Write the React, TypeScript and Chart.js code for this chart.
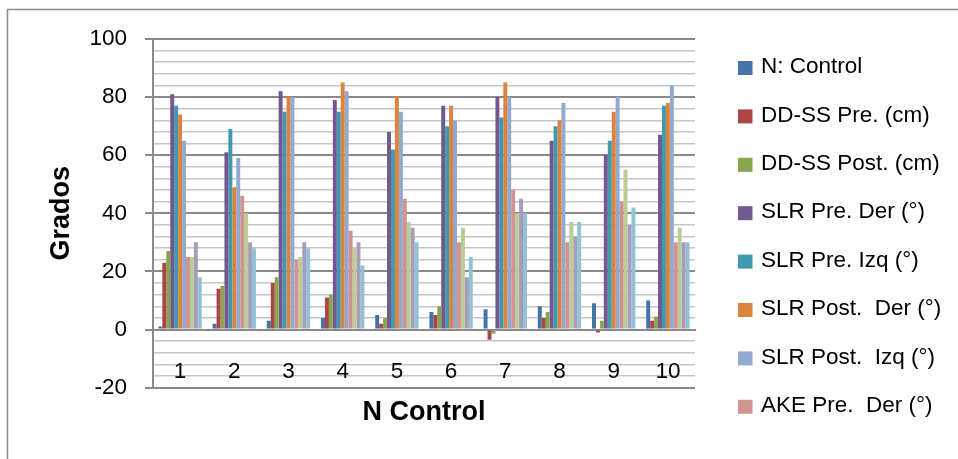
import { useEffect, useRef } from 'react';
import { Chart, registerables } from 'chart.js';

Chart.register(...registerables);

const categories = ['1', '2', '3', '4', '5', '6', '7', '8', '9', '10'];

const seriesNames = [
  'N: Control',
  'DD-SS Pre. (cm)',
  'DD-SS Post. (cm)',
  'SLR Pre. Der (°)',
  'SLR Pre. Izq (°)',
  'SLR Post.  Der (°)',
  'SLR Post.  Izq (°)',
  'AKE Pre.  Der (°)',
  'AKE Pre.  Izq (°)',
  'AKE Post.  Der (°)',
  'AKE Post.  Izq (°)',
];

const nControl = [1, 2, 3, 4, 5, 6, 7, 8, 9, 10];
const ddssPre = [23, 14, 16, 11, 2, 5, -3.5, 4, -1, 3];
const ddssPost = [27, 15, 18, 12, 4, 8, -1.5, 6, 3, 4.5];
const slrPreDer = [81, 61, 82, 79, 68, 77, 80, 65, 60, 67];
const slrPreIzq = [77, 69, 75, 75, 62, 70, 73, 70, 65, 77];
const slrPostDer = [74, 49, 80, 85, 80, 77, 85, 72, 75, 78];
const slrPostIzq = [65, 59, 80, 82, 75, 72, 80, 78, 80, 84];
const akePreDer = [25, 46, 24, 34, 45, 30, 48, 30, 44, 30];
const akePreIzq = [25, 40, 25, 28, 37, 35, 40, 37, 55, 35];
const akePostDer = [30, 30, 30, 30, 35, 18, 45, 32, 36, 30];
const akePostIzq = [18, 28, 28, 22, 30, 25, 40, 37, 42, 30];

const yTickLabels = ['-20', '0', '20', '40', '60', '80', '100'];

const seriesValues = [
  nControl, ddssPre, ddssPost, slrPreDer, slrPreIzq, slrPostDer,
  slrPostIzq, akePreDer, akePreIzq, akePostDer, akePostIzq,
];

const colors = [
  '#4572A7', '#AA4643', '#89A54E', '#71588F', '#4198AF', '#DB843D',
  '#93A9CF', '#D19392', '#B9CD96', '#A99BBD', '#92C3D4',
];

const LEGEND_SHOWN = 8;
const FONT = '"Liberation Sans", Arial, sans-serif';

const framePlugin = {
  id: 'frame',
  beforeDraw(chart: any) {
    const ctx = chart.ctx;
    ctx.save();
    ctx.strokeStyle = '#8c8c8c';
    ctx.lineWidth = 1.5;
    ctx.strokeRect(7.5, 9.5, 2000, 2000);
    ctx.restore();
  },
};

const sideLegend = {
  id: 'sideLegend',
  afterDraw(chart: any) {
    const ctx = chart.ctx;
    const x0 = chart.chartArea.right + 43;
    ctx.save();
    ctx.font = `22.5px ${FONT}`;
    ctx.textBaseline = 'middle';
    ctx.textAlign = 'left';
    chart.data.datasets.slice(0, LEGEND_SHOWN).forEach((ds: any, i: number) => {
      const y = 67 + i * 48.4;
      ctx.fillStyle = ds.backgroundColor;
      ctx.fillRect(x0, y - 6, 14.5, 14);
      ctx.fillStyle = '#000';
      ctx.fillText(ds.label, x0 + 23, y);
    });
    ctx.restore();
  },
};

export default function App() {
  const ref = useRef<HTMLCanvasElement>(null);

  useEffect(() => {
    if (!ref.current) return;
    const chart = new Chart(ref.current, {
      type: 'bar',
      data: {
        labels: categories,
        datasets: seriesValues.map((vals, i) => ({
          label: seriesNames[i],
          data: vals,
          backgroundColor: colors[i],
          borderWidth: 0,
          barPercentage: 1,
          categoryPercentage: 0.8,
        })),
      },
      options: {
        animation: false,
        responsive: false,
        devicePixelRatio: 1,
        layout: { padding: { left: 7, top: 39, right: 263, bottom: 22 } },
        plugins: {
          legend: { display: false },
          tooltip: { enabled: false },
          title: {
            display: true,
            position: 'bottom',
            fullSize: false,
            text: 'N Control',
            color: '#000',
            font: { family: FONT, size: 27, weight: 'bold', lineHeight: 1.2 },
            padding: { top: 9, bottom: 8 },
          },
        },
        scales: {
          x: {
            position: { y: 0 } as any,
            grid: { display: false },
            border: { display: true, color: '#8a8a8a', width: 2 },
            ticks: { color: '#000', font: { family: FONT, size: 22.5 }, padding: 21 },
          },
          y: {
            min: -20,
            max: 100,
            afterFit(scale: any) {
              scale.width = 146;
            },
            ticks: {
              stepSize: 4,
              autoSkip: false,
              maxTicksLimit: 100,
              color: '#000',
              font: { family: FONT, size: 22.5 },
              padding: 18,
              callback: (v: any) => {
                const s = String(v);
                return yTickLabels.includes(s) ? s : '';
              },
            },
            grid: {
              color: (c: any) => (c.tick && c.tick.value % 20 === 0 ? '#8a8a8a' : '#c6c6c6'),
              lineWidth: (c: any) => (c.tick && c.tick.value % 20 === 0 ? 2 : 1.5),
              tickLength: 8,
              tickColor: (c: any) => (c.tick && c.tick.value % 20 === 0 ? '#8a8a8a' : 'rgba(0,0,0,0)'),
              tickWidth: 2,
            },
            border: { color: '#8a8a8a', width: 2 },
            title: {
              display: true,
              text: 'Grados',
              color: '#000',
              font: { family: FONT, size: 27, weight: 'bold', lineHeight: 1.2 },
              padding: { top: 38, bottom: 0 },
            },
          },
        },
      },
      plugins: [framePlugin, sideLegend],
    });
    return () => chart.destroy();
  }, []);

  return (
    <div style={{ position: 'fixed', left: 0, top: 0, width: 958, height: 459, background: '#fff' }}>
      <canvas ref={ref} width={958} height={459} style={{ display: 'block' }} />
    </div>
  );
}
